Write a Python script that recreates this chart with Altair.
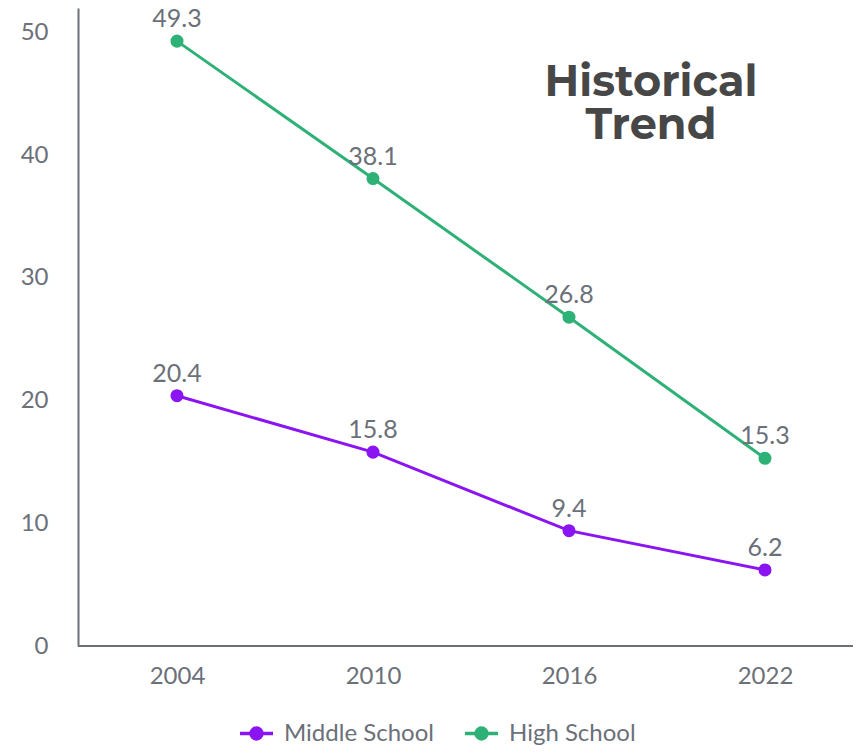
import altair as alt
import pandas as pd

years = ["2004", "2010", "2016", "2022"]
middle = [20.4, 15.8, 9.4, 6.2]
high = [49.3, 38.1, 26.8, 15.3]
series = ["Middle School", "High School"]
colors = ["#8b14f2", "#2eb176"]
title_lines = ["Historical", "Trend"]

rows = []
for s, vals in zip(series, [middle, high]):
    for y, v in zip(years, vals):
        rows.append({"year": y, "value": v, "series": s})
df = pd.DataFrame(rows)

W, H = 775, 638
gray = "#6b7079"
xscale = alt.Scale(type="point", domain=years, range=[99, 687], padding=0)
x = alt.X("year:N", sort=years, scale=xscale,
          axis=alt.Axis(title=None, labelAngle=0, labelFont="Lato", labelFontSize=24, labelColor=gray,
                        labelPadding=18, ticks=False, domain=False, grid=False))
y = alt.Y("value:Q", scale=alt.Scale(domain=[0, 52], nice=False),
          axis=alt.Axis(title=None, values=[0, 10, 20, 30, 40, 50], labelFont="Lato", labelFontSize=24,
                        labelColor=gray, labelPadding=30, ticks=False, domainColor=gray, domainWidth=2,
                        grid=False))
color = alt.Color("series:N", sort=series, scale=alt.Scale(domain=series, range=colors),
                  legend=alt.Legend(title=None, orient="none", direction="horizontal", legendX=160, legendY=707,
                                    labelFont="Lato", labelFontSize=24, labelColor=gray, symbolSize=1089,
                                    symbolType="M-1,0L1,0M-0.33,0a0.33,0.33 0 1,0 0.66,0a0.33,0.33 0 1,0 -0.66,0",
                                    symbolStrokeWidth=3.5, columnPadding=24, labelOffset=9))

base = alt.Chart(df)
xaxis_line = alt.Chart(pd.DataFrame({"v": [0]})).mark_rule(color=gray, strokeWidth=2).encode(
    x=alt.value(0), x2=alt.value(W), y=alt.value(H))
lines = base.mark_line(strokeWidth=3, point=alt.OverlayMarkDef(size=170, filled=True, opacity=1)).encode(
    x=x, y=y, color=color)
labels = base.mark_text(font="Lato", fontSize=25, color=gray, dy=-22).encode(
    x=alt.X("year:N", sort=years, scale=xscale), y="value:Q", text=alt.Text("value:Q", format=".1f"))

tdf = pd.DataFrame({"t": title_lines, "i": [0, 1]})
title = alt.Chart(tdf).mark_text(font="Montserrat, Open Sans", fontWeight="bold", fontSize=43,
                                 color="#474747", align="center", baseline="middle").encode(
    x=alt.value(573), y=alt.value(75), text="t:N",
    yOffset=alt.YOffset("i:Q", scale=alt.Scale(domain=[0, 1], range=[0, 43])))

chart = alt.layer(xaxis_line, lines, labels, title).properties(
    width=W, height=H,
    autosize=alt.AutoSizeParams(type="none"),
    padding={"left": 70, "top": 0, "right": 0, "bottom": 102},
).configure_view(stroke=None)

chart.save("out.html", embed_options={"renderer": "svg", "actions": False})
